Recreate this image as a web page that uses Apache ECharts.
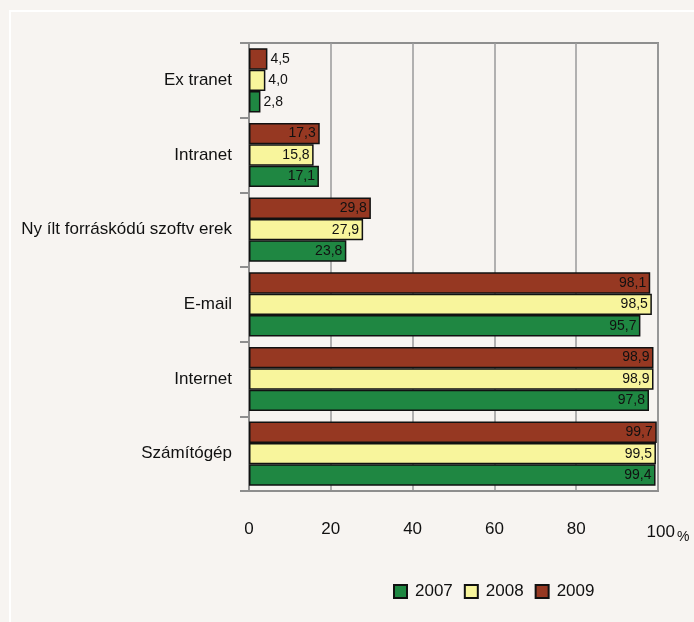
<!DOCTYPE html>
<html>
<head>
<meta charset="utf-8">
<script src="https://cdn.jsdelivr.net/npm/echarts@6/dist/echarts.min.js"></script>
<style>
html,body{margin:0;padding:0;background:#f7f4f1;}
#chart{width:694px;height:622px;}
</style>
</head>
<body>
<div id="chart"></div>
<script>
// Categories listed bottom-up (ECharts category y-axis starts at the bottom)
const categories = ['Számítógép', 'Internet', 'E-mail', 'Ny ílt forráskódú szoftv erek', 'Intranet', 'Ex tranet'];
const years = ['2007', '2008', '2009'];
const values2007 = [99.4, 97.8, 95.7, 23.8, 17.1, 2.8];
const values2008 = [99.5, 98.9, 98.5, 27.9, 15.8, 4.0];
const values2009 = [99.7, 98.9, 98.1, 29.8, 17.3, 4.5];
const xTicks = [0, 20, 40, 60, 80, 100];

const colors = ['#1f8742', '#f8f59c', '#963822'];
const FONT = "'Liberation Sans', Arial, sans-serif";

function mkSeries(name, vals, color) {
  return {
    name: name,
    type: 'bar',
    barGap: '0%',
    barCategoryGap: '14%',
    itemStyle: { color: color, borderColor: '#111', borderWidth: 1.5 },
    label: {
      show: true,
      position: 'insideRight',
      distance: 4,
      color: '#111',
      fontFamily: FONT,
      fontSize: 14,
      formatter: p => p.value.toFixed(1).replace('.', ',')
    },
    data: vals.map(v => v < 10 ? { value: v, label: { position: 'right', distance: 3 } } : v),
    emphasis: { disabled: true }
  };
}

const chart = echarts.init(document.getElementById('chart'), null, { renderer: 'canvas' });
chart.setOption({
  backgroundColor: '#f7f4f1',
  animation: false,
  color: colors,
  graphic: [{
    type: 'rect',
    shape: { x: 10, y: 11, width: 800, height: 800 },
    style: { fill: 'none', stroke: '#ffffff', lineWidth: 2 },
    silent: true
  }],
  grid: {
    left: 249, right: 36, top: 43, bottom: 131,
    outerBoundsMode: 'none',
    containLabel: false,
    show: true, borderColor: '#8e8e8e', borderWidth: 2, backgroundColor: 'transparent'
  },
  legend: {
    data: years,
    left: 388, top: 578,
    itemWidth: 13, itemHeight: 13, itemGap: 11,
    icon: 'rect',
    itemStyle: { borderColor: '#111', borderWidth: 2 },
    textStyle: { fontFamily: FONT, fontSize: 17, color: '#111', padding: [0, 0, 0, 3] }
  },
  xAxis: {
    type: 'value',
    min: 0, max: 100, interval: 20,
    axisLine: { show: true, lineStyle: { color: '#8e8e8e', width: 2 } },
    axisTick: { show: false },
    splitLine: { show: true, lineStyle: { color: '#9a9a9a', width: 1.5 } },
    axisLabel: {
      margin: 30,
      fontFamily: FONT, fontSize: 17, color: '#111',
      formatter: v => v === 100 ? '{n|100}{p|%}' : String(v),
      rich: {
        n: { fontFamily: FONT, fontSize: 17, color: '#111', padding: [0, 0, 0, 20] },
        p: { fontFamily: FONT, fontSize: 14, color: '#111', padding: [9, 0, 0, 2] }
      }
    }
  },
  yAxis: {
    type: 'category',
    data: categories,
    axisLine: { show: true, lineStyle: { color: '#8e8e8e', width: 2 } },
    axisTick: { show: true, length: 9, lineStyle: { color: '#8e8e8e', width: 2 } },
    axisLabel: { margin: 17, fontFamily: FONT, fontSize: 17, color: '#111' }
  },
  // first series is drawn at the top of each band, so 2009 goes first
  series: [
    mkSeries(years[2], values2009, colors[2]),
    mkSeries(years[1], values2008, colors[1]),
    mkSeries(years[0], values2007, colors[0])
  ]
});
</script>
</body>
</html>
